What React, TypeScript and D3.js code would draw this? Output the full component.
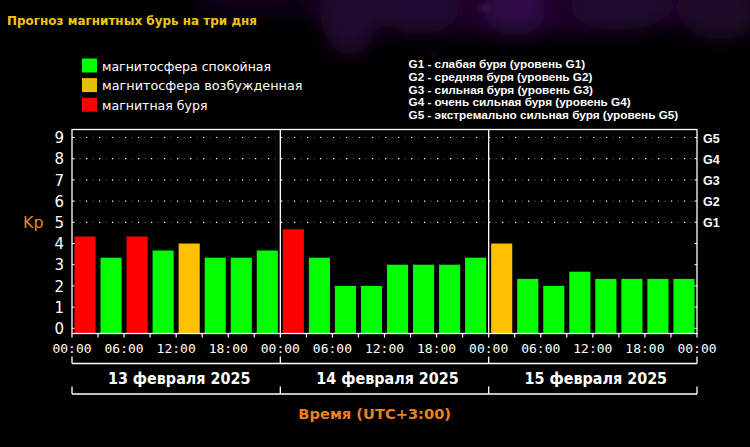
import React from "react";
import * as d3 from "d3";

const TITLE = "Прогноз магнитных бурь на три дня";
const legendLabels = ["магнитосфера спокойная", "магнитосфера возбужденная", "магнитная буря"];
const legendColors = ["#00ff00", "#e3c000", "#ff0000"];
const gLegend = [
  "G1 - слабая буря (уровень G1)",
  "G2 - средняя буря (уровень G2)",
  "G3 - сильная буря (уровень G3)",
  "G4 - очень сильная буря (уровень G4)",
  "G5 - экстремально сильная буря (уровень G5)",
];
const days = ["13 февраля 2025", "14 февраля 2025", "15 февраля 2025"];
const kpDay1 = [4.33, 3.33, 4.33, 3.67, 4.0, 3.33, 3.33, 3.67];
const kpDay2 = [4.67, 3.33, 2.0, 2.0, 3.0, 3.0, 3.0, 3.33];
const kpDay3 = [4.0, 2.33, 2.0, 2.67, 2.33, 2.33, 2.33, 2.33];
const yTicks = [0, 1, 2, 3, 4, 5, 6, 7, 8, 9];
const gLevels = [5, 6, 7, 8, 9];
const gLabels = ["G1", "G2", "G3", "G4", "G5"];
const xLabel = "Время (UTC+3:00)";
const yLabel = "Kp";

const kp = [...kpDay1, ...kpDay2, ...kpDay3];

const colorFor = (v: number) => (v > 4.1 ? "#ff0000" : v >= 3.95 ? "#ffc000" : "#00ff00");

export default function App() {
  const L = 72, R = 697, T = 129.5, B = 333.5;
  const x = d3.scaleBand<number>().domain(d3.range(kp.length)).range([L, R]).paddingInner(0.19).paddingOuter(0.095);
  const y = d3.scaleLinear().domain([0, 9]).range([328.3, 137.5]);
  const t0 = new Date(2025, 1, 13, 0, 0);
  const t1 = new Date(2025, 1, 16, 0, 0);
  const xt = d3.scaleTime().domain([t0, t1]).range([L, R]);
  const minor = d3.timeHour.every(3)!.range(t0, d3.timeHour.offset(t1, 1));
  const major = d3.timeHour.every(6)!.range(t0, d3.timeHour.offset(t1, 1));
  const dayStarts = d3.timeDay.range(t0, d3.timeDay.offset(t1, 1));
  const fmt = d3.timeFormat("%H:%M");
  const white = "#ffffff";

  return (
    <svg width={750} height={447} style={{ position: "fixed", left: 0, top: 0, background: "#000" }}>
      <defs>
        <filter id="blur" x="-50%" y="-50%" width="200%" height="200%">
          <feGaussianBlur stdDeviation="10" />
        </filter>
        <filter id="blur2" x="-50%" y="-50%" width="200%" height="200%">
          <feGaussianBlur stdDeviation="3" />
        </filter>
      </defs>
      <rect x={0} y={0} width={750} height={447} fill="#000" />
      <g filter="url(#blur)" opacity={0.8}>
        <ellipse cx={520} cy={5} rx={220} ry={30} fill="#22062f" />
        <ellipse cx={350} cy={10} rx={30} ry={45} fill="#2c0a3e" />
        <ellipse cx={420} cy={5} rx={40} ry={30} fill="#2a0840" />
        <ellipse cx={515} cy={8} rx={30} ry={28} fill="#3b0c58" />
        <ellipse cx={620} cy={5} rx={50} ry={25} fill="#2a0a3c" />
        <ellipse cx={720} cy={10} rx={40} ry={30} fill="#250835" />
        <ellipse cx={250} cy={0} rx={60} ry={15} fill="#160420" />
      </g>
      <g filter="url(#blur2)">
        <circle cx={484} cy={8} r={2.5} fill="#6a3598" />
        <circle cx={433} cy={53} r={2} fill="#4a2268" />
      </g>

      <text x={7} y={25} fill="#f2c414" fontFamily="DejaVu Sans" fontWeight="bold" fontSize={12.5} textLength={250} lengthAdjust="spacingAndGlyphs">{TITLE}</text>

      {legendLabels.map((lab, i) => (
        <g key={lab}>
          <rect x={82} y={58.5 + i * 19.6} width={15} height={14} fill={legendColors[i]} />
          <text x={102} y={70.5 + i * 19.6} fill={white} fontFamily="DejaVu Sans" fontSize={13}
            textLength={[169, 200.5, 105.5][i]} lengthAdjust="spacingAndGlyphs">{lab}</text>
        </g>
      ))}

      {gLegend.map((s, i) => (
        <text key={s} x={408.5} y={68.3 + i * 12.7} fill={white} fontFamily="Liberation Sans" fontWeight="bold" fontSize={11.75}>{s}</text>
      ))}

      {/* dotted grid */}
      {gLevels.map((v) => (
        <g key={v}>
          <line x1={L + 2} x2={R - 2} y1={y(v)} y2={y(v)} stroke="#ffffff" strokeWidth={1.2} strokeDasharray="1.2 11.8" strokeDashoffset={-12} />
          <line x1={L + 2} x2={R - 2} y1={y(v)} y2={y(v)} stroke="#555" strokeWidth={1.2} strokeDasharray="1.2 11.8" strokeDashoffset={-5.5} />
        </g>
      ))}

      {/* bars */}
      {kp.map((v, i) => (
        <rect key={i} x={x(i)} y={y(v)} width={x.bandwidth()} height={B - y(v)} fill={colorFor(v)} />
      ))}

      {/* frame */}
      <rect x={L} y={T} width={R - L} height={B - T} fill="none" stroke={white} strokeWidth={1.3} />
      {dayStarts.slice(1, -1).map((d, i) => (
        <line key={i} x1={xt(d)} x2={xt(d)} y1={T} y2={B} stroke={white} strokeWidth={1.3} />
      ))}

      {/* y ticks */}
      {yTicks.map((v) => (
        <g key={v}>
          <line x1={L} x2={L + 2.5} y1={y(v)} y2={y(v)} stroke={white} />
          <line x1={R - 2.5} x2={R} y1={y(v)} y2={y(v)} stroke={white} />
          <text x={64} y={y(v) + 5.6} textAnchor="end" fill={white} fontFamily="DejaVu Sans" fontSize={15}>{v}</text>
        </g>
      ))}
      {gLevels.map((v, i) => (
        <text key={v} x={703} y={y(v) + 5} fill={white} fontFamily="Liberation Sans" fontWeight="bold" fontSize={12.5}>{gLabels[i]}</text>
      ))}
      <text x={23} y={228.3} fill="#dc8a2e" fontFamily="DejaVu Sans" fontSize={16}>{yLabel}</text>

      {/* x ticks */}
      {minor.map((d, i) => (
        <line key={i} x1={xt(d)} x2={xt(d)} y1={B} y2={B + 4} stroke={white} strokeWidth={1.2} />
      ))}
      {major.map((d, i) => (
        <text key={i} x={xt(d)} y={353.3} textAnchor="middle" fill={white} fontFamily="DejaVu Sans Mono" fontSize={13}>{fmt(d)}</text>
      ))}

      {/* day brackets */}
      <line x1={L} x2={R} y1={363.5} y2={363.5} stroke={white} strokeWidth={1.3} />
      <line x1={L} x2={R} y1={394} y2={394} stroke={white} strokeWidth={1.3} />
      {dayStarts.map((d, i) => (
        <g key={i}>
          <line x1={xt(d)} x2={xt(d)} y1={356.5} y2={363.5} stroke={white} strokeWidth={1.3} />
          <line x1={xt(d)} x2={xt(d)} y1={386.5} y2={394} stroke={white} strokeWidth={1.3} />
        </g>
      ))}
      {days.map((s, i) => (
        <text key={s} x={(xt(dayStarts[i]) + xt(dayStarts[i + 1])) / 2 + 3} y={384} textAnchor="middle" fill={white}
          fontFamily="DejaVu Sans" fontWeight="bold" fontSize={15} textLength={142.5} lengthAdjust="spacingAndGlyphs">{s}</text>
      ))}
      <text x={374.7} y={418.5} textAnchor="middle" fill="#e8821e" fontFamily="DejaVu Sans" fontWeight="bold" fontSize={14.5}
        textLength={152.7} lengthAdjust="spacingAndGlyphs">{xLabel}</text>
    </svg>
  );
}
